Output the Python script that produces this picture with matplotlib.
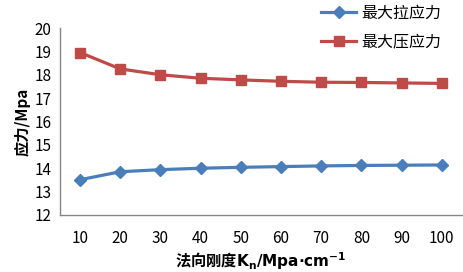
import matplotlib
matplotlib.use("Agg")
import matplotlib.pyplot as plt

plt.rcParams['font.family'] = ['Noto Sans CJK SC', 'DejaVu Sans']

categories = ["10", "20", "30", "40", "50", "60", "70", "80", "90", "100"]
tension = [13.51, 13.85, 13.94, 14.0, 14.04, 14.07, 14.1, 14.12, 14.13, 14.14]
compression = [18.95, 18.25, 18.0, 17.85, 17.78, 17.72, 17.68, 17.67, 17.65, 17.63]
yticks = [12, 13, 14, 15, 16, 17, 18, 19, 20]

fig = plt.figure(figsize=(4.63, 2.72), dpi=100)
ax = fig.add_axes([0.1296, 0.2096, 0.868, 0.6874])

x = list(range(len(categories)))
l1, = ax.plot(x, tension, color='#4A7EBB', lw=2.3, marker='D', ms=6.5,
              label='最大拉应力')
l2, = ax.plot(x, compression, color='#BE4B48', lw=2.3, marker='s', ms=7.5,
              label='最大压应力')

ax.set_xlim(-0.5, 9.5)
ax.set_ylim(12, 20)
ax.set_yticks(yticks)
ax.set_yticklabels([str(v) for v in yticks], fontsize=11)
ax.set_xticks(x)
ax.set_xticklabels(categories, fontsize=11)
ax.tick_params(length=0, pad=6)
ax.tick_params(axis='x', pad=11)
for s in ['top', 'right']:
    ax.spines[s].set_visible(False)
for s in ['left', 'bottom']:
    ax.spines[s].set_color('#868686')
    ax.spines[s].set_linewidth(1.0)

ax.set_ylabel('应力/Mpa', fontsize=11, fontweight='bold', labelpad=3)
ax.set_xlabel('法向刚度$\\mathbf{K_n/Mpa{\\cdot}cm^{-1}}$', fontsize=11,
              fontweight='bold', labelpad=2)

fig.legend(handles=[l1, l2], loc='upper left', bbox_to_anchor=(0.663, 1.035),
           frameon=False, fontsize=11.5, handlelength=2.2, labelspacing=0.75,
           handletextpad=0.3)

fig.savefig('out.png', dpi=100)
